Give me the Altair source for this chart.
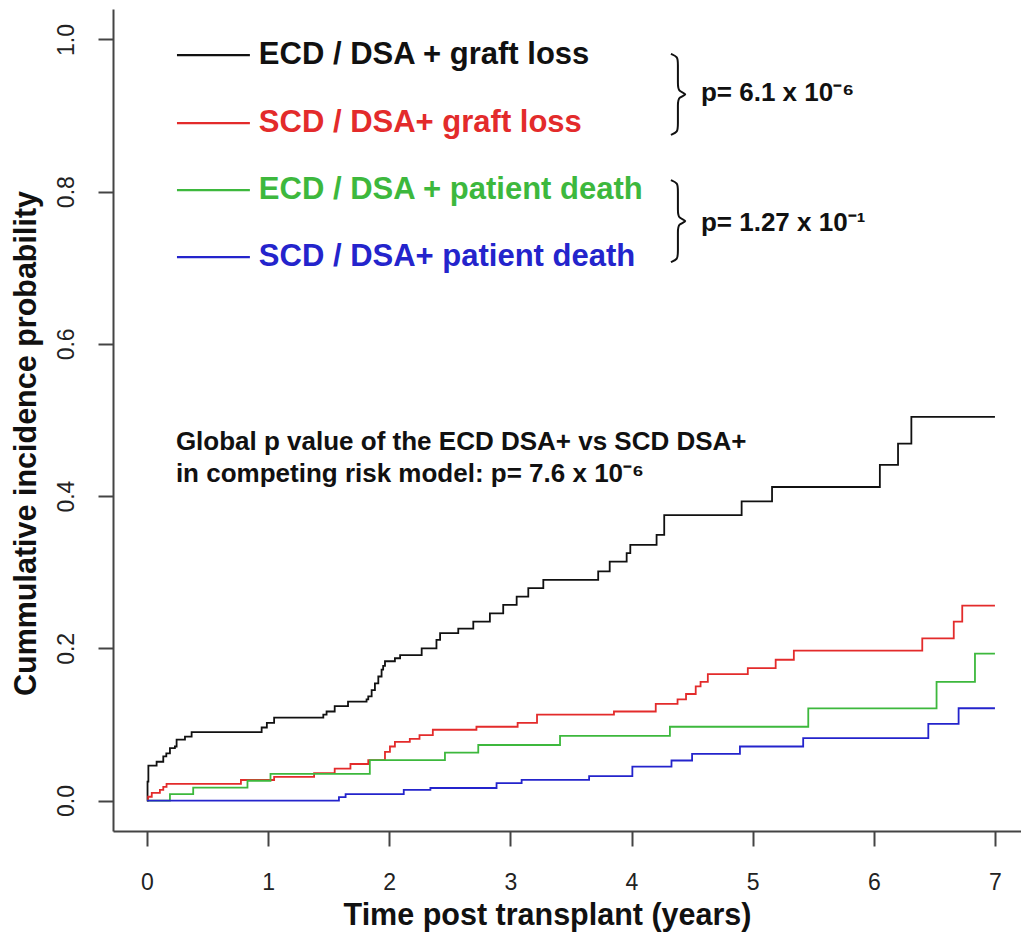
import altair as alt
import pandas as pd
import numpy as np

FONT = "Liberation Sans"

# ---- step curves: time (years) of each step and cumulative incidence after it ----
ecd_gl_t = [0.000, 0.005, 0.012, 0.080, 0.135, 0.160, 0.190, 0.231, 0.245, 0.314, 0.369,
            0.947, 0.990, 1.050, 1.456, 1.483, 1.550, 1.660, 1.813, 1.827, 1.855, 1.882,
            1.910, 1.937, 1.950, 1.965, 2.047, 2.090, 2.268, 2.390, 2.420, 2.570, 2.694,
            2.831, 2.941, 3.052, 3.148, 3.272, 3.725, 3.820, 3.960, 3.990, 4.207, 4.270,
            4.909, 5.160, 6.050, 6.200, 6.310, 7.000]
ecd_gl_y = [0.000, 0.025, 0.046, 0.051, 0.058, 0.062, 0.069, 0.071, 0.080, 0.084, 0.090,
            0.096, 0.102, 0.109, 0.113, 0.117, 0.124, 0.130, 0.133, 0.137, 0.145, 0.154,
            0.163, 0.172, 0.177, 0.183, 0.187, 0.191, 0.200, 0.211, 0.220, 0.226, 0.235,
            0.246, 0.257, 0.268, 0.279, 0.290, 0.301, 0.314, 0.325, 0.336, 0.349, 0.375,
            0.393, 0.412, 0.441, 0.469, 0.504, 0.504]

scd_gl_t = [0.000, 0.010, 0.040, 0.107, 0.135, 0.162, 0.776, 1.050, 1.380, 1.550, 1.680,
            1.827, 1.965, 2.006, 2.047, 2.170, 2.250, 2.360, 2.720, 3.060, 3.220, 3.855,
            4.200, 4.380, 4.450, 4.530, 4.570, 4.630, 4.960, 5.190, 5.340, 6.400, 6.660,
            6.730, 7.000]
scd_gl_y = [0.000, 0.005, 0.010, 0.014, 0.018, 0.022, 0.027, 0.031, 0.036, 0.042, 0.048,
            0.053, 0.064, 0.071, 0.077, 0.081, 0.086, 0.093, 0.097, 0.102, 0.113, 0.117,
            0.127, 0.133, 0.140, 0.150, 0.156, 0.166, 0.174, 0.185, 0.197, 0.213, 0.235,
            0.256, 0.256]

ecd_pd_t = [0.000, 0.190, 0.382, 0.830, 1.020, 1.840, 2.460, 2.735, 3.410, 4.317, 5.459,
            6.518, 6.835, 7.000]
ecd_pd_y = [0.000, 0.0085, 0.017, 0.026, 0.035, 0.053, 0.063, 0.073, 0.085, 0.097, 0.121,
            0.156, 0.193, 0.193]

scd_pd_t = [0.000, 1.585, 1.640, 2.120, 2.340, 2.886, 3.093, 3.650, 4.007, 4.330, 4.500,
            4.895, 5.417, 6.450, 6.700, 7.000]
scd_pd_y = [0.000, 0.0044, 0.0084, 0.014, 0.0165, 0.0228, 0.0272, 0.032, 0.0447, 0.0526,
            0.0613, 0.071, 0.082, 0.1007, 0.1213, 0.1213]

series_names = ["ECD / DSA + graft loss", "SCD / DSA+ graft loss",
                "ECD / DSA + patient death", "SCD / DSA+ patient death"]
line_colors = ["#111111", "#e32b2b", "#3db83d", "#2424cc"]
text_colors = ["#111111", "#d81a2a", "#6ccc3c", "#1e1ebf"]

x_ticks = [0, 1, 2, 3, 4, 5, 6, 7]
y_ticks = [0.0, 0.2, 0.4, 0.6, 0.8, 1.0]

p_texts = ["p= 6.1 x 10\u207b\u2076", "p= 1.27 x 10\u207b\u00b9"]
global_lines = ["Global p value of the ECD DSA+ vs SCD DSA+",
                "in competing risk model: p= 7.6 x 10\u207b\u2076"]

# ---- build tables ----
rows = []
for name, ts, ys in zip(series_names,
                        [ecd_gl_t, scd_gl_t, ecd_pd_t, scd_pd_t],
                        [ecd_gl_y, scd_gl_y, ecd_pd_y, scd_pd_y]):
    for i, (t, y) in enumerate(zip(ts, ys)):
        rows.append({"series": name, "t": t, "y": y, "i": i})
curves = pd.DataFrame(rows)

X_DOM = [-0.28, 7.215]
Y_DOM = [-0.04, 1.04]
W, H = 908, 822
px_x = (X_DOM[1] - X_DOM[0]) / W   # data units per pixel
px_y = (Y_DOM[1] - Y_DOM[0]) / H

xs = alt.Scale(domain=X_DOM, nice=False, zero=False)
ys = alt.Scale(domain=Y_DOM, nice=False, zero=False)

x_axis = alt.Axis(values=x_ticks, format="d", grid=False, tickSize=15, tickWidth=2,
                  tickColor="#444444", domainColor="#444444", domainWidth=2,
                  labelFont=FONT, labelFontSize=23, labelColor="#222222", labelPadding=25,
                  title="Time post transplant (years)", titleFont=FONT, titleFontSize=30.5,
                  titleFontWeight="bold", titleColor="#111111", titleX=434, titleY=84,
                  titleBaseline="middle", titleAlign="center")
y_axis = alt.Axis(values=y_ticks, format=".1f", grid=False, tickSize=15, tickWidth=2,
                  tickColor="#444444", domainColor="#444444", domainWidth=2,
                  labelFont=FONT, labelFontSize=23, labelColor="#222222", labelPadding=20,
                  labelAngle=270, labelAlign="center", labelBaseline="bottom",
                  title="Cummulative incidence probability", titleFont=FONT,
                  titleFontSize=30.5, titleFontWeight="bold", titleColor="#111111",
                  titleAngle=270, titleX=-87, titleY=434, titleBaseline="middle",
                  titleAlign="center")

color_scale = alt.Scale(domain=series_names, range=line_colors)

lines = alt.Chart(curves).mark_line(interpolate="step-after", strokeWidth=1.8).encode(
    x=alt.X("t:Q", scale=xs, axis=x_axis),
    y=alt.Y("y:Q", scale=ys, axis=y_axis),
    color=alt.Color("series:N", scale=color_scale, legend=None),
    order=alt.Order("i:Q"),
)

# ---- legend (drawn inside plot) ----
leg_y = [0.9793, 0.8901, 0.8020, 0.7141]
legend_df = pd.DataFrame({"series": series_names, "y": leg_y,
                          "x1": 0.248, "x2": 0.850, "xt": 0.924})
leg_lines = alt.Chart(legend_df).mark_rule(strokeWidth=2.2).encode(
    x=alt.X("x1:Q", scale=xs), x2="x2:Q", y=alt.Y("y:Q", scale=ys),
    color=alt.Color("series:N", scale=color_scale, legend=None))
leg_text = alt.Chart(legend_df).mark_text(
    align="left", baseline="middle", font=FONT, fontSize=31, fontWeight="bold").encode(
    x=alt.X("xt:Q", scale=xs), y=alt.Y("y:Q", scale=ys), text="series:N",
    color=alt.Color("series:N", scale=alt.Scale(domain=series_names, range=text_colors),
                    legend=None))

# ---- braces ----
def brace(x_stem, y_top, y_bot, gid):
    h = (y_top - y_bot) / px_y  # height in px
    pts = [(-7, 0), (0, 3), (0, 9), (0, h / 2 - 9), (0, h / 2 - 3), (11, h / 2),
           (0, h / 2 + 3), (0, h / 2 + 9), (0, h - 9), (0, h - 3), (-7, h)]
    return [{"bx": x_stem + dx * px_x, "by": y_top - dy * px_y, "g": gid, "i": k}
            for k, (dx, dy) in enumerate(pts)]

brace_df = pd.DataFrame(brace(4.383, 0.9811, 0.8747, "a") + brace(4.383, 0.8152, 0.7075, "b"))
braces = alt.Chart(brace_df).mark_line(interpolate="basis", color="#111111",
                                       strokeWidth=2).encode(
    x=alt.X("bx:Q", scale=xs), y=alt.Y("by:Q", scale=ys), detail="g:N",
    order=alt.Order("i:Q"))

p_df = pd.DataFrame({"x": [4.573, 4.573], "y": [0.9299, 0.7594], "txt": p_texts})
p_text = alt.Chart(p_df).mark_text(align="left", baseline="middle", font=FONT,
                                   fontSize=26, fontWeight="bold", color="#111111").encode(
    x=alt.X("x:Q", scale=xs), y=alt.Y("y:Q", scale=ys), text="txt:N")

g_df = pd.DataFrame({"x": [0.239, 0.239], "y": [0.4711, 0.4291], "txt": global_lines})
g_text = alt.Chart(g_df).mark_text(align="left", baseline="middle", font=FONT,
                                   fontSize=26, fontWeight="bold", color="#111111").encode(
    x=alt.X("x:Q", scale=xs), y=alt.Y("y:Q", scale=ys), text="txt:N")

chart = alt.layer(lines, leg_lines, leg_text, braces, p_text, g_text).properties(
    width=W, height=H,
    padding={"left": 113, "top": 9, "right": 0, "bottom": 106},
    autosize=alt.AutoSizeParams(type="none"),
    background="white",
).configure_view(stroke=None)

chart.save("out.html", embed_options={"renderer": "svg", "actions": False})
